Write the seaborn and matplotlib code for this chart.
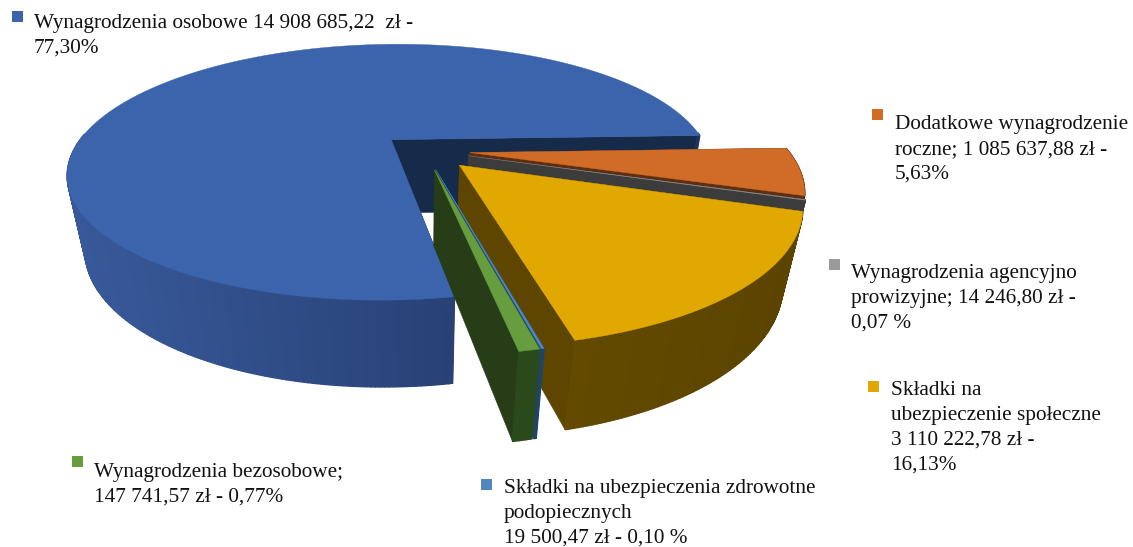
import numpy as np
import matplotlib
matplotlib.use("Agg")
import matplotlib.pyplot as plt
import seaborn as sns
from matplotlib.patches import Polygon, Rectangle
from matplotlib.colors import to_rgb

# --- data (clockwise from the start angle)
categories = ["Dodatkowe wynagrodzenie roczne", "Wynagrodzenia agencyjno prowizyjne",
              "Składki na ubezpieczenie społeczne", "Składki na ubezpieczenia zdrowotne podopiecznych",
              "Wynagrodzenia bezosobowe", "Wynagrodzenia osobowe"]
values = [1085637.88, 14246.80, 3110222.78, 19500.47, 147741.57, 14908685.22]
labels = ["Dodatkowe wynagrodzenie\nroczne; 1 085 637,88 zł -\n5,63%",
          "Wynagrodzenia agencyjno\nprowizyjne; 14 246,80 zł -\n0,07 %",
          "Składki na\nubezpieczenie społeczne\n3 110 222,78 zł -\n16,13%",
          "Składki na ubezpieczenia zdrowotne\npodopiecznych\n19 500,47 zł - 0,10 %",
          "Wynagrodzenia bezosobowe;\n147 741,57 zł - 0,77%",
          "Wynagrodzenia osobowe 14 908 685,22  zł -\n77,30%"]

top_colors = ["#D06C28", "#8A8A8A", "#E0A800", "#4E85BF", "#659D3F", "#3B64AD"]
wall_start = ["#5e2e10", "#3c3c3c", "#5b4400", "#1f4468", "#2a4a1c", "#1e335f"]
wall_end = ["#5e2e10", "#3c3c3c", "#634a00", "#1f4468", "#2a4a1c", "#38599a"]
face_colors = ["#5e2e10", "#3c3c3c", "#5e4500", "#1f4468", "#263d18", "#162a4a"]
legend_colors = ["#D06C28", "#9A9A9A", "#E0A800", "#5088BE", "#659D3F", "#3B64AD"]
explode = [0.145, 0.145, 0.16, 0.155, 0.155, 0.135]

label_xy = [(895, 129), (851, 278), (891, 395), (504, 493), (94, 477), (34, 28)]
square_xy = [(872, 109), (829, 259), (868, 381), (481, 479), (72, 456), (12, 11)]
LINE_PITCH = 24.8

START = 2.0       # degrees
CX, CY, RX, RY, K, DEPTH, SHRINK = 424, 150, 318, 125, 0.26, 78, 0.05

sns.set_theme(style="white")
plt.rcParams["font.family"] = ["Liberation Serif", "DejaVu Sans"]
palette = sns.color_palette(top_colors)


def project(x, y, z=0.0):
    w = 1 + K * np.asarray(y, float) + SHRINK * z
    return np.column_stack([CX + RX * np.asarray(x) / w,
                            CY + (-RY * np.asarray(y) + DEPTH * z) / w])


fig = plt.figure(figsize=(11.33, 5.47), dpi=100)
ax = fig.add_axes([0, 0, 1, 1])
ax.set_xlim(0, 1133)
ax.set_ylim(547, 0)
ax.axis("off")

fr = np.array(values) / np.sum(values) * 360
for i in [5, 0, 1, 2, 3, 4]:
    a1 = START - fr[:i].sum()
    a0 = a1 - fr[i]
    mid = np.radians((a0 + a1) / 2)
    ox, oy = explode[i] * np.cos(mid), explode[i] * np.sin(mid)
    th = np.radians(np.linspace(a0, a1, max(4, int(fr[i] * 1.5))))
    xr, yr = ox + np.cos(th), oy + np.sin(th)
    top = project(xr, yr)
    bot = project(xr, yr, 1)
    apex, apex_b = project([ox], [oy]), project([ox], [oy], 1)
    for j in (0, -1):
        ax.add_patch(Polygon(np.vstack([apex, top[j], bot[j], apex_b]),
                             fc=face_colors[i], ec=face_colors[i], lw=0.4))
    cs, ce = np.array(to_rgb(wall_start[i])), np.array(to_rgb(wall_end[i]))
    near = np.sin(th) < 0.05
    xmin, xmax = top[near, 0].min(), top[near, 0].max()
    for j in range(len(top) - 1):
        if not near[j]:
            continue
        c = cs + (ce - cs) * (1 - (top[j, 0] - xmin) / max(xmax - xmin, 1e-6))
        ax.add_patch(Polygon(np.vstack([top[j], top[j + 1], bot[j + 1], bot[j]]),
                             fc=c, ec=c, lw=1.0))
    ax.add_patch(Polygon(np.vstack([apex, top]), fc=palette[i], ec=palette[i], lw=0.3))

for i, lab in enumerate(labels):
    x0, y0 = label_xy[i]
    for n, line in enumerate(lab.split("\n")):
        ax.text(x0, y0 + n * LINE_PITCH, line, fontsize=15.35, color="#111111",
                va="baseline", family=["Liberation Serif", "DejaVu Sans"])
    ax.add_patch(Rectangle(square_xy[i], 11, 11, fc=legend_colors[i], ec="none"))

fig.savefig("out.png", dpi=100)
